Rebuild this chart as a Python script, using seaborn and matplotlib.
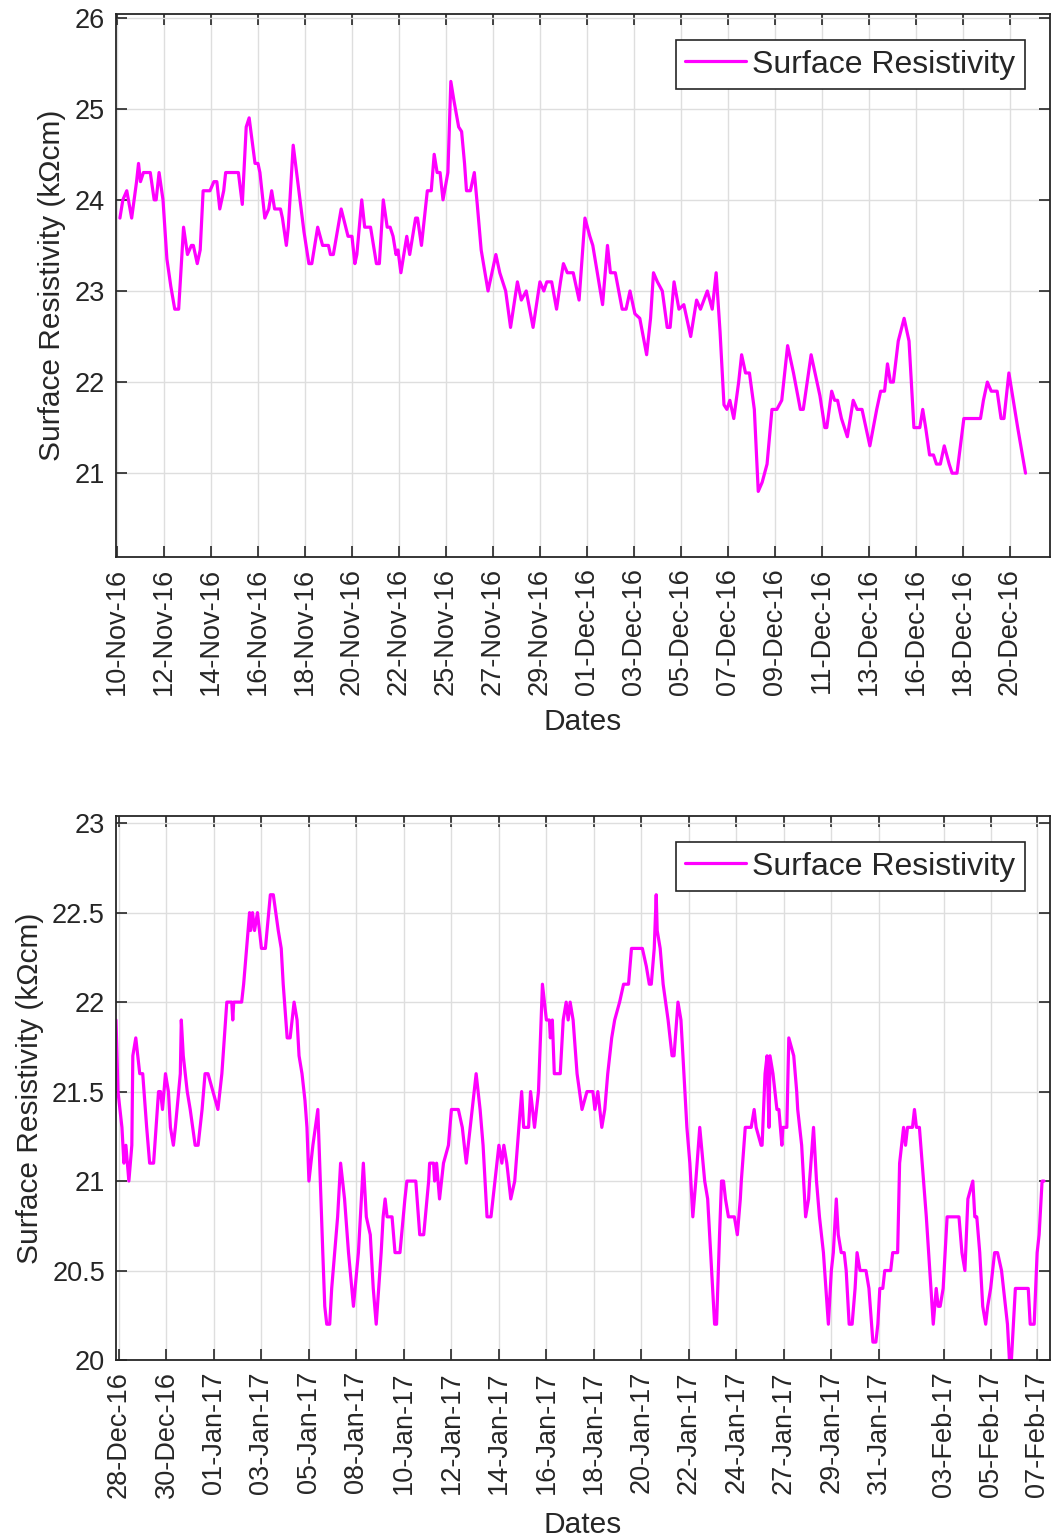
import matplotlib
matplotlib.use("Agg")
import matplotlib.pyplot as plt
import seaborn as sns
import pandas as pd
from matplotlib.ticker import FuncFormatter, FixedLocator

# ---------------- data (sample index, surface resistivity in kOhm.cm) ----------------
top_idx = [3, 6, 10, 15, 20, 22, 24, 27, 34, 38, 40, 43, 47, 51, 55, 59, 63, 68, 72, 76, 78, 82, 85,
           88, 95, 99, 102, 105, 109, 111, 124, 128, 132, 135, 141, 144, 146, 151, 155, 158, 161, 167,
           169, 173, 175, 180, 187, 191, 196, 199, 205, 210, 216, 218, 221, 229, 236, 240, 243, 245,
           250, 253, 259, 265, 268, 272, 276, 279, 282, 285, 287, 290, 296, 299, 305, 307, 311, 317,
           321, 324, 327, 330, 333, 338, 341, 344, 349, 352, 355, 357, 361, 365, 368, 372, 379, 387,
           391, 397, 402, 409, 413, 418, 425, 432, 436, 439, 444, 449, 453, 456, 460, 466, 472, 478,
           483, 486, 496, 501, 504, 509, 516, 520, 524, 529, 534, 541, 545, 548, 552, 557, 562, 565,
           569, 574, 579, 586, 592, 596, 603, 608, 612, 616, 620, 623, 626, 630, 635, 638, 642, 646,
           651, 655, 659, 664, 669, 674, 679, 685, 691, 698, 701, 709, 713, 718, 723, 725, 730, 733,
           736, 740, 746, 752, 756, 761, 769, 776, 780, 784, 787, 790, 793, 798, 804, 809, 814, 820,
           823, 826, 830, 834, 837, 841, 845, 850, 853, 858, 865, 882, 885, 889, 893, 899, 903, 906,
           911, 920, 928]
top_val = [23.8, 24.0, 24.1, 23.8, 24.2, 24.4, 24.2, 24.3, 24.3, 24.0, 24.0, 24.3, 24.0, 23.35, 23.05,
           22.8, 22.8, 23.7, 23.4, 23.5, 23.5, 23.3, 23.45, 24.1, 24.1, 24.2, 24.2, 23.9, 24.1, 24.3,
           24.3, 23.95, 24.8, 24.9, 24.4, 24.4, 24.3, 23.8, 23.9, 24.1, 23.9, 23.9, 23.8, 23.5, 23.7,
           24.6, 24.0, 23.65, 23.3, 23.3, 23.7, 23.5, 23.5, 23.4, 23.4, 23.9, 23.6, 23.6, 23.3, 23.4,
           24.0, 23.7, 23.7, 23.3, 23.3, 24.0, 23.7, 23.7, 23.6, 23.4, 23.45, 23.2, 23.6, 23.4, 23.8,
           23.8, 23.5, 24.1, 24.1, 24.5, 24.3, 24.3, 24.0, 24.3, 25.3, 25.1, 24.8, 24.75, 24.4, 24.1,
           24.1, 24.3, 23.95, 23.45, 23.0, 23.4, 23.2, 23.0, 22.6, 23.1, 22.9, 23.0, 22.6, 23.1, 23.0,
           23.1, 23.1, 22.8, 23.1, 23.3, 23.2, 23.2, 22.9, 23.8, 23.6, 23.5, 22.85, 23.5, 23.2, 23.2,
           22.8, 22.8, 23.0, 22.75, 22.7, 22.3, 22.7, 23.2, 23.1, 23.0, 22.6, 22.6, 23.1, 22.8, 22.85,
           22.5, 22.9, 22.8, 23.0, 22.8, 23.2, 22.55, 21.75, 21.7, 21.8, 21.6, 22.0, 22.3, 22.1, 22.1,
           21.7, 20.8, 20.9, 21.1, 21.7, 21.7, 21.8, 22.4, 22.1, 21.7, 21.7, 22.3, 22.1, 21.85, 21.5,
           21.5, 21.9, 21.8, 21.8, 21.6, 21.4, 21.8, 21.7, 21.7, 21.3, 21.7, 21.9, 21.9, 22.2, 22.0,
           22.0, 22.45, 22.7, 22.45, 21.5, 21.5, 21.7, 21.5, 21.2, 21.2, 21.1, 21.1, 21.3, 21.1, 21.0,
           21.0, 21.6, 21.6, 21.8, 22.0, 21.9, 21.9, 21.6, 21.6, 22.1, 21.5, 21.0]
top_tick_idx = [0, 48, 96, 144, 192, 240, 288, 336, 384, 432, 480, 528, 576, 624, 672, 720, 768, 816,
                864, 912]
top_tick_labels = ['10-Nov-16', '12-Nov-16', '14-Nov-16', '16-Nov-16', '18-Nov-16', '20-Nov-16',
                   '22-Nov-16', '25-Nov-16', '27-Nov-16', '29-Nov-16', '01-Dec-16', '03-Dec-16',
                   '05-Dec-16', '07-Dec-16', '09-Dec-16', '11-Dec-16', '13-Dec-16', '16-Dec-16',
                   '18-Dec-16', '20-Dec-16']

bot_idx = [0, 2, 6, 8, 10, 13, 16, 17, 20, 24, 27, 31, 34, 38, 43, 45, 47, 50, 53, 55, 58, 60, 65, 66,
           68, 72, 75, 80, 83, 87, 90, 93, 98, 103, 107, 112, 117, 118, 119, 127, 129, 132, 135, 136,
           138, 140, 143, 147, 151, 156, 159, 164, 167, 169, 173, 176, 180, 183, 185, 188, 191, 193,
           195, 199, 204, 209, 211, 213, 216, 218, 221, 224, 227, 231, 235, 240, 245, 250, 253, 257,
           260, 263, 268, 270, 272, 274, 279, 282, 287, 292, 294, 303, 307, 311, 316, 317, 321, 322,
           324, 327, 331, 336, 339, 346, 350, 354, 358, 364, 368, 371, 375, 379, 383, 387, 390, 392,
           395, 399, 403, 410, 412, 417, 419, 423, 427, 431, 435, 438, 439, 441, 443, 449, 452, 455,
           457, 459, 462, 466, 471, 476, 482, 484, 487, 491, 494, 497, 501, 504, 509, 513, 518, 521,
           532, 536, 539, 541, 544, 546, 547, 550, 553, 558, 562, 564, 568, 571, 575, 577, 580, 583,
           586, 590, 595, 598, 602, 605, 607, 610, 612, 614, 616, 619, 625, 628, 631, 632, 636, 642,
           645, 647, 652, 653, 656, 658, 660, 661, 664, 668, 670, 673, 674, 678, 680, 685, 688, 689,
           693, 697, 700, 701, 705, 708, 711, 715, 720, 723, 725, 728, 730, 733, 736, 738, 741, 744,
           747, 749, 752, 758, 761, 765, 768, 770, 772, 775, 777, 783, 785, 790, 792, 796, 798, 800,
           805, 807, 809, 812, 819, 826, 829, 831, 833, 836, 840, 852, 855, 858, 861, 866, 868, 870,
           873, 876, 879, 881, 884, 888, 891, 895, 897, 901, 903, 905, 907, 909, 922, 924, 928, 931,
           933, 936, 938]
bot_val = [21.9, 21.5, 21.3, 21.1, 21.2, 21.0, 21.2, 21.7, 21.8, 21.6, 21.6, 21.3, 21.1, 21.1, 21.5,
           21.5, 21.4, 21.6, 21.5, 21.3, 21.2, 21.3, 21.6, 21.9, 21.7, 21.5, 21.4, 21.2, 21.2, 21.4,
           21.6, 21.6, 21.5, 21.4, 21.6, 22.0, 22.0, 21.9, 22.0, 22.0, 22.1, 22.3, 22.5, 22.4, 22.5,
           22.4, 22.5, 22.3, 22.3, 22.6, 22.6, 22.4, 22.3, 22.1, 21.8, 21.8, 22.0, 21.9, 21.7, 21.6,
           21.45, 21.3, 21.0, 21.2, 21.4, 20.6, 20.3, 20.2, 20.2, 20.4, 20.6, 20.8, 21.1, 20.9, 20.6,
           20.3, 20.6, 21.1, 20.8, 20.7, 20.4, 20.2, 20.6, 20.8, 20.9, 20.8, 20.8, 20.6, 20.6, 20.9,
           21.0, 21.0, 20.7, 20.7, 21.0, 21.1, 21.1, 21.0, 21.1, 20.9, 21.1, 21.2, 21.4, 21.4, 21.3,
           21.1, 21.3, 21.6, 21.4, 21.2, 20.8, 20.8, 21.0, 21.2, 21.1, 21.2, 21.1, 20.9, 21.0, 21.5,
           21.3, 21.3, 21.5, 21.3, 21.5, 22.1, 21.9, 21.9, 21.8, 21.9, 21.6, 21.6, 21.9, 22.0, 21.9,
           22.0, 21.9, 21.6, 21.4, 21.5, 21.5, 21.4, 21.5, 21.3, 21.4, 21.6, 21.8, 21.9, 22.0, 22.1,
           22.1, 22.3, 22.3, 22.2, 22.1, 22.1, 22.3, 22.6, 22.4, 22.3, 22.1, 21.9, 21.7, 21.7, 22.0,
           21.9, 21.5, 21.3, 21.1, 20.8, 21.0, 21.3, 21.0, 20.9, 20.5, 20.2, 20.2, 20.7, 21.0, 21.0,
           20.9, 20.8, 20.8, 20.7, 20.9, 21.0, 21.3, 21.3, 21.4, 21.3, 21.2, 21.2, 21.6, 21.7, 21.3,
           21.7, 21.6, 21.4, 21.4, 21.2, 21.3, 21.3, 21.8, 21.7, 21.5, 21.4, 21.2, 20.8, 20.9, 21.0,
           21.3, 21.0, 20.8, 20.6, 20.2, 20.5, 20.6, 20.9, 20.7, 20.6, 20.6, 20.5, 20.2, 20.2, 20.4,
           20.6, 20.5, 20.5, 20.4, 20.1, 20.1, 20.2, 20.4, 20.4, 20.5, 20.5, 20.6, 20.6, 21.1, 21.3,
           21.2, 21.3, 21.3, 21.4, 21.3, 21.3, 20.8, 20.2, 20.4, 20.3, 20.3, 20.4, 20.8, 20.8, 20.6,
           20.5, 20.9, 21.0, 20.8, 20.8, 20.6, 20.3, 20.2, 20.3, 20.4, 20.6, 20.6, 20.5, 20.4, 20.2,
           20.0, 20.0, 20.2, 20.4, 20.4, 20.2, 20.2, 20.6, 20.7, 21.0, 21.0]
bot_tick_idx = [3, 51, 99, 147, 195, 243, 291, 339, 387, 435, 483, 531, 579, 627, 675, 723, 771,
                837, 884, 931]
bot_tick_labels = ['28-Dec-16', '30-Dec-16', '01-Jan-17', '03-Jan-17', '05-Jan-17', '08-Jan-17',
                   '10-Jan-17', '12-Jan-17', '14-Jan-17', '16-Jan-17', '18-Jan-17', '20-Jan-17',
                   '22-Jan-17', '24-Jan-17', '27-Jan-17', '29-Jan-17', '31-Jan-17', '03-Feb-17',
                   '05-Feb-17', '07-Feb-17']

series_name = 'Surface Resistivity'
y_label = 'Surface Resistivity (k\u03a9cm)'
x_label = 'Dates'

# ---------------- style ----------------
sns.set_style("white")
plt.rcParams['font.family'] = ['Liberation Sans', 'DejaVu Sans']
LINE_COLOR = '#ff00ff'
AX_COLOR = '#262626'

fig = plt.figure(figsize=(10.56, 15.39), dpi=100)
W, H = 1056.0, 1539.0
ax1 = fig.add_axes([116 / W, 1 - 557 / H, 934 / W, 543 / H])
ax2 = fig.add_axes([116 / W, 1 - 1360 / H, 934 / W, 544 / H])


def draw(ax, idx, val, ticks, labels, xlim, ylim, yticks):
    df = pd.DataFrame({'idx': idx, 'val': val})
    sns.lineplot(data=df, x='idx', y='val', ax=ax, color=LINE_COLOR, linewidth=2.3,
                 estimator=None, sort=False, label=series_name)
    ax.set_xlim(*xlim)
    ax.set_ylim(*ylim)
    ax.xaxis.set_major_locator(FixedLocator(ticks))
    ax.set_xticklabels(labels, rotation=90, fontsize=19.5, color=AX_COLOR)
    ax.yaxis.set_major_locator(FixedLocator(yticks))
    ax.yaxis.set_major_formatter(FuncFormatter(lambda v, p: '%g' % v))
    ax.tick_params(axis='y', labelsize=19.5, labelcolor=AX_COLOR)
    ax.tick_params(direction='in', length=8, width=1.2, color=AX_COLOR,
                   top=True, right=True, bottom=True, left=True, pad=8)
    ax.grid(True, color='#dedede', linewidth=1.0)
    ax.set_axisbelow(True)
    for s in ax.spines.values():
        s.set_visible(True)
        s.set_color(AX_COLOR)
        s.set_linewidth(1.3)
    ax.set_xlabel(x_label, fontsize=21.5, color=AX_COLOR, labelpad=9)
    ax.set_ylabel(y_label, fontsize=21.5, color=AX_COLOR, labelpad=6)
    leg = ax.legend(loc='upper right', bbox_to_anchor=(1 - 25 / 934, 1 - 26 / 543),
                    borderaxespad=0, fontsize=23, frameon=True, fancybox=False,
                    framealpha=1, edgecolor=AX_COLOR, handlelength=1.9,
                    handletextpad=0.2, borderpad=0.3)
    leg.get_frame().set_linewidth(1.2)


draw(ax1, top_idx, top_val, top_tick_idx, top_tick_labels, (-1, 953), (20.08, 26.04),
     [21, 22, 23, 24, 25, 26])
draw(ax2, bot_idx, bot_val, bot_tick_idx, bot_tick_labels, (0, 944), (20.0, 23.04),
     [20, 20.5, 21, 21.5, 22, 22.5, 23])

fig.savefig('out.png', dpi=100)
